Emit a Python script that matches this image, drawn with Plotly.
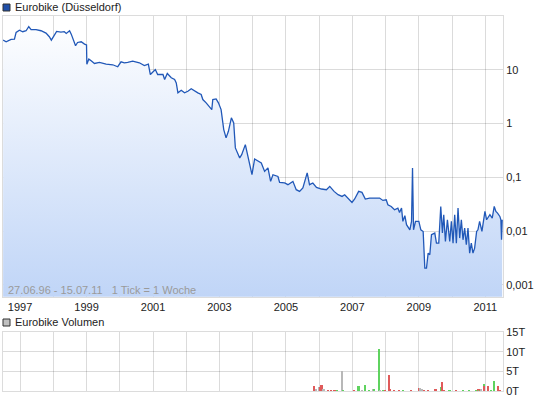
import pandas as pd
import plotly.graph_objects as go

# Eurobike (Düsseldorf) weekly close (decimal year, EUR)
price_years = [
    1996.49, 1996.58, 1996.73, 1996.83, 1996.88, 1996.98, 1997.08, 1997.18, 1997.26, 1997.33,
    1997.48, 1997.63, 1997.78, 1997.88, 1997.94, 1998.03, 1998.10, 1998.23, 1998.33, 1998.39,
    1998.49, 1998.54, 1998.58, 1998.67, 1998.73, 1998.84, 1998.94, 1999.00, 1999.01, 1999.07,
    1999.14, 1999.24, 1999.39, 1999.59, 1999.79, 1999.94, 2000.04, 2000.14, 2000.24, 2000.39,
    2000.59, 2000.74, 2000.86, 2000.92, 2001.07, 2001.14, 2001.30, 2001.35, 2001.43, 2001.55,
    2001.65, 2001.70, 2001.75, 2001.85, 2001.95, 2002.05, 2002.15, 2002.25, 2002.35, 2002.45,
    2002.50, 2002.60, 2002.70, 2002.77, 2002.80, 2002.90, 2002.97, 2003.05, 2003.13, 2003.20,
    2003.27, 2003.36, 2003.43, 2003.48, 2003.61, 2003.67, 2003.78, 2003.86, 2003.98, 2004.06,
    2004.16, 2004.26, 2004.36, 2004.46, 2004.54, 2004.61, 2004.76, 2004.81, 2004.96, 2005.06,
    2005.21, 2005.31, 2005.41, 2005.51, 2005.64, 2005.71, 2005.81, 2005.92, 2006.07, 2006.22,
    2006.32, 2006.45, 2006.57, 2006.69, 2006.77, 2006.87, 2006.99, 2007.07, 2007.19, 2007.29,
    2007.39, 2007.52, 2007.67, 2007.82, 2007.92, 2008.02, 2008.07, 2008.17, 2008.27, 2008.37,
    2008.42, 2008.48, 2008.52, 2008.58, 2008.63, 2008.73, 2008.78, 2008.81, 2008.84, 2008.90,
    2009.00, 2009.06, 2009.13, 2009.18, 2009.23, 2009.28, 2009.33, 2009.38, 2009.48, 2009.53,
    2009.60, 2009.66, 2009.71, 2009.75, 2009.80, 2009.86, 2009.93, 2009.98, 2010.03, 2010.08,
    2010.13, 2010.18, 2010.23, 2010.28, 2010.33, 2010.38, 2010.43, 2010.48, 2010.53, 2010.58,
    2010.63, 2010.68, 2010.74, 2010.78, 2010.83, 2010.90, 2010.99, 2011.04, 2011.14, 2011.21,
    2011.27, 2011.32, 2011.37, 2011.44, 2011.47, 2011.49, 2011.51,
]
price_values = [
    35.6, 33.2, 36.7, 37.1, 49.5, 54.6, 51.0, 53.2, 63.2, 55.6,
    55.6, 53.2, 48.1, 41.2, 35.6, 43.0, 51.7, 50.1, 51.0, 47.5,
    53.2, 46.0, 38.8, 28.0, 32.2, 33.2, 30.0, 29.0, 12.7, 15.8,
    14.7, 13.1, 13.7, 12.7, 12.4, 11.4, 14.1, 13.5, 13.7, 14.5,
    13.5, 12.0, 12.7, 8.17, 10.1, 8.17, 8.17, 6.59, 8.53, 7.10,
    6.59, 5.72, 3.73, 4.17, 3.73, 3.99, 4.43, 3.99, 3.73, 3.47,
    2.80, 2.43, 2.10, 1.82, 2.80, 2.88, 2.43, 1.82, 0.773, 0.542,
    0.719, 1.28, 1.03, 0.353, 0.230, 0.265, 0.406, 0.246, 0.112, 0.22,
    0.204, 0.185, 0.129, 0.150, 0.0843, 0.112, 0.104, 0.0807, 0.0787, 0.0731,
    0.0843, 0.0590, 0.0549, 0.0635, 0.121, 0.0731, 0.0787, 0.0651, 0.0608, 0.0590,
    0.0680, 0.0549, 0.0476, 0.0443, 0.0476, 0.0413, 0.0342, 0.0396, 0.0549, 0.0526,
    0.0396, 0.0413, 0.0413, 0.0413, 0.0373, 0.0384, 0.0310, 0.0288, 0.0250, 0.0269,
    0.0223, 0.0269, 0.0152, 0.0194, 0.0132, 0.0106, 0.0152, 0.150, 0.0106, 0.0152,
    0.0152, 0.0106, 0.00987, 0.00206, 0.00206, 0.00391, 0.00364, 0.00857, 0.00922, 0.00600,
    0.00600, 0.0288, 0.00922, 0.0202, 0.00643, 0.0163, 0.00643, 0.0152, 0.00600, 0.0202,
    0.00600, 0.0269, 0.00744, 0.0163, 0.00691, 0.0114, 0.00558, 0.0114, 0.00391, 0.00600,
    0.00391, 0.00484, 0.00987, 0.0106, 0.0152, 0.00987, 0.0233, 0.0163, 0.0202, 0.0175,
    0.0288, 0.0233, 0.0217, 0.0188, 0.0163, 0.00691, 0.0163,
]

# Volume bars (thousands of shares) and their up/down colour
vol_years = [
    2005.86, 2005.92, 2006.00, 2006.04, 2006.08, 2006.14, 2006.27, 2006.37, 2006.47, 2006.54,
    2006.69, 2006.72, 2007.07, 2007.17, 2007.20, 2007.30, 2007.39, 2007.50, 2007.62, 2007.65,
    2007.80, 2007.84, 2007.92, 2008.00, 2008.10, 2008.14, 2008.27, 2008.42, 2008.52, 2008.78,
    2009.00, 2009.05, 2009.11, 2009.15, 2009.28, 2009.51, 2009.68, 2009.70, 2009.75, 2009.93,
    2010.13, 2010.33, 2010.52, 2010.73, 2010.78, 2010.81, 2010.86, 2010.88, 2010.96, 2010.98,
    2011.09, 2011.19, 2011.26, 2011.39, 2011.46,
]
vol_values = [
    1.28, 0.4, 0.94, 1.1, 1.5, 0.5, 0.15, 0.15, 0.15, 0.25,
    5.1, 0.25, 0.25, 1.28, 1.28, 0.2, 1.5, 0.25, 0.5, 0.4,
    10.7, 0.2, 0.25, 0.25, 4.1, 0.5, 0.15, 0.15, 0.25, 0.15,
    0.85, 0.7, 0.4, 0.25, 0.15, 0.5, 0.94, 2.3, 0.25, 0.15,
    0.15, 0.15, 0.15, 0.25, 0.5, 0.25, 0.4, 0.5, 1.8, 1.36,
    1.28, 0.25, 2.56, 1.28, 0.25,
]
vol_dir = [
    "d", "n", "n", "d", "d", "n", "d", "d", "d", "u",
    "n", "u", "d", "u", "u", "n", "u", "u", "n", "u",
    "u", "n", "u", "d", "d", "d", "d", "d", "u", "d",
    "d", "n", "n", "d", "d", "d", "u", "d", "d", "u",
    "d", "u", "u", "u", "d", "u", "d", "n", "u", "d",
    "d", "u", "u", "d", "d",
]

year_ticks = list(range(1997, 2012))
year_labels = [str(y) if y % 2 == 1 else "" for y in year_ticks]


def to_date(t):
    y = int(t)
    start = pd.Timestamp(y, 1, 1)
    return start + (pd.Timestamp(y + 1, 1, 1) - start) * (t - y)


px_dates = [to_date(t) for t in price_years]
vol_dates = [to_date(t) for t in vol_years]
dir_colors = {"u": "#5fd35f", "d": "#e05a5a", "n": "#b8b8b8"}

FONT = "Liberation Sans, Arial, sans-serif"
GRID = "rgba(0,0,0,0.14)"
x_range = [pd.Timestamp("1996-06-27"), pd.Timestamp("2011-07-15")]

fig = go.Figure()

fig.add_trace(go.Scatter(
    x=px_dates, y=price_values, mode="lines",
    line=dict(color="#2158b8", width=1.3),
    fill="tozeroy",
    fillgradient=dict(type="vertical", start=0.0006, stop=100,
                      colorscale=[[0, "#c0d5f7"], [1, "#ffffff"]]),
    xaxis="x", yaxis="y", hoverinfo="skip",
))

fig.add_trace(go.Bar(
    x=vol_dates, y=vol_values,
    marker=dict(color=[dir_colors[d] for d in vol_dir], line=dict(width=0)),
    width=18 * 86400000,
    xaxis="x2", yaxis="y2", hoverinfo="skip",
))

fig.update_layout(
    width=545, height=401,
    margin=dict(l=3, r=42, t=16, b=10),
    paper_bgcolor="white", plot_bgcolor="white",
    showlegend=False,
    font=dict(family=FONT, size=11, color="#222"),
    xaxis=dict(
        type="date", range=x_range, domain=[0, 1], anchor="y",
        tickvals=[pd.Timestamp(y, 1, 1) for y in year_ticks], ticktext=year_labels,
        showgrid=True, gridcolor=GRID, layer="above traces",
        showline=True, linecolor="#dcdcdc", mirror=True,
        ticks="", tickfont=dict(size=11, color="#222"),
    ),
    yaxis=dict(
        type="log", range=[-3.218, 2], domain=[0.2515, 1], anchor="x",
        side="right",
        tickvals=[0.001, 0.01, 0.1, 1, 10],
        ticktext=["0,001", "0,01", "0,1", "1", "10"],
        showgrid=True, gridcolor=GRID, zeroline=False,
        showline=True, linecolor="#dcdcdc", mirror=True,
        ticks="", tickfont=dict(size=11, color="#222"),
    ),
    xaxis2=dict(
        type="date", range=x_range, domain=[0, 1], anchor="y2",
        tickvals=[pd.Timestamp(y, 1, 1) for y in year_ticks], showticklabels=False,
        showgrid=True, gridcolor=GRID,
        showline=True, linecolor="#dcdcdc", mirror=True, ticks="",
    ),
    yaxis2=dict(
        range=[0, 15], domain=[0, 0.1573], anchor="x2", side="right",
        tickvals=[0, 5, 10, 15], ticktext=["0T", "5T", "10T", "15T"],
        showgrid=True, gridcolor=GRID, zeroline=False,
        showline=True, linecolor="#dcdcdc", mirror=True,
        ticks="", tickfont=dict(size=11, color="#222"),
    ),
    bargap=0,
)

# header boxes for the two panels
fig.add_shape(type="rect", xref="paper", yref="paper",
              x0=0, x1=0.014, y0=1.0133, y1=1.0320,
              fillcolor="#1f4fa8", line=dict(color="#333", width=1))
fig.add_annotation(text="Eurobike (Düsseldorf)", xref="paper", yref="paper",
                   x=0.019, y=1.0227, xanchor="left", yanchor="middle",
                   showarrow=False, font=dict(size=11, color="#222"))

fig.add_shape(type="rect", xref="paper", yref="paper",
              x0=0, x1=0.014, y0=0.1733, y1=0.1920,
              fillcolor="#c0c0c0", line=dict(color="#333", width=1))
fig.add_annotation(text="Eurobike Volumen", xref="paper", yref="paper",
                   x=0.019, y=0.1827, xanchor="left", yanchor="middle",
                   showarrow=False, font=dict(size=11, color="#222"))

fig.add_annotation(text="27.06.96 - 15.07.11   1 Tick = 1 Woche",
                   xref="paper", yref="paper", x=0.006, y=0.2693,
                   xanchor="left", yanchor="middle", showarrow=False,
                   font=dict(size=11, color="#9a9a9a"))

fig.write_html("out.html", config={"displayModeBar": False},
               post_script="document.body.style.margin='0';")
